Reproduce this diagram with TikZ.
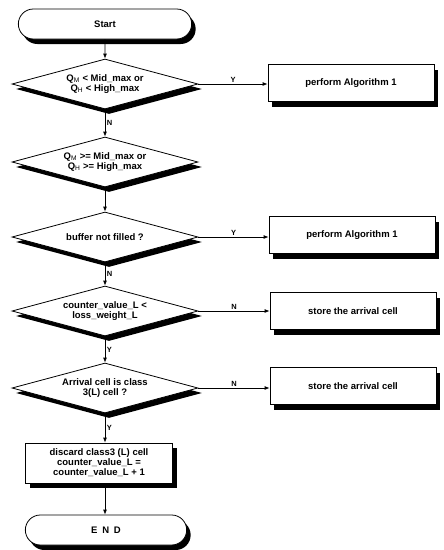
\documentclass[tikz,border=0pt]{standalone}
\usepackage{fontspec}
\setmainfont{Liberation Sans}
\usetikzlibrary{shapes.geometric,shapes.misc,shadows,arrows.meta}

\tikzset{
  shade/.style={drop shadow={shadow xshift=4pt,shadow yshift=-5pt,fill=black,opacity=1}},
  term/.style={rounded rectangle,draw,thick,fill=white,shade,minimum width=180pt,minimum height=30pt},
  test/.style={diamond,draw,thick,fill=white,shade,aspect=3.6,inner sep=0pt,minimum width=186pt,minimum height=50pt,align=center},
  act/.style={rectangle,draw,thick,fill=white,shade,minimum width=166pt,minimum height=37pt,align=center},
  flow/.style={thick,-{Latex[length=5pt,width=4pt]}},
  tag/.style={font=\bfseries\fontsize{7.5}{8}\selectfont,inner sep=1.5pt},
}

\begin{document}
\begin{tikzpicture}[x=1pt,y=1pt,font=\bfseries\fontsize{9.5}{10}\selectfont]
\useasboundingbox (0,0) rectangle (444,-550);
\node[term] (start) at (105,-24) {Start};
\node[test] (q1) at (105,-84) {Q$_\mathrm{M}$ < Mid\_max or\\Q$_\mathrm{H}$ < High\_max};
\node[act] (alg1) at (351,-83) {perform Algorithm 1};
\node[test] (q2) at (105,-162) {Q$_\mathrm{M}$ >= Mid\_max or\\Q$_\mathrm{H}$ >= High\_max};
\node[test] (buf) at (105,-237) {buffer not filled ?};
\node[act] (alg2) at (352,-235) {perform Algorithm 1};
\node[test] (cnt) at (105,-311) {counter\_value\_L <\\loss\_weight\_L};
\node[act] (store1) at (353,-311) {store the arrival cell};
\node[test] (cls) at (105,-388) {Arrival cell is class\\3(L) cell ?};
\node[act] (store2) at (353,-386) {store the arrival cell};
\node[act,minimum width=147pt,minimum height=40pt,inner sep=2pt] (drop) at (99,-463) {discard class3 (L) cell\\counter\_value\_L =\\counter\_value\_L + 1};
\node[term,minimum width=168pt] (end) at (106,-530) {E\,\,\,N\,\,\,D};
\draw[flow] (start) -- (q1);
\draw[flow] (q1) -- node[tag,right] {N} (q2);
\draw[flow] (q2) -- (buf);
\draw[flow] (buf) -- node[tag,right] {N} (cnt);
\draw[flow] (cnt) -- node[tag,right] {Y} (cls);
\draw[flow] (cls.south) -- node[tag,right] {Y} (cls.south |- drop.north);
\draw[flow] (cls.south |- drop.south) -- (cls.south |- end.north);
\draw[flow] (q1.east) -- node[tag,above] {Y} (alg1.west |- q1.east);
\draw[flow] (buf.east) -- node[tag,above] {Y} (alg2.west |- buf.east);
\draw[flow] (cnt.east) -- node[tag,above] {N} (store1.west |- cnt.east);
\draw[flow] (cls.east) -- node[tag,above] {N} (store2.west |- cls.east);
\end{tikzpicture}
\end{document}
